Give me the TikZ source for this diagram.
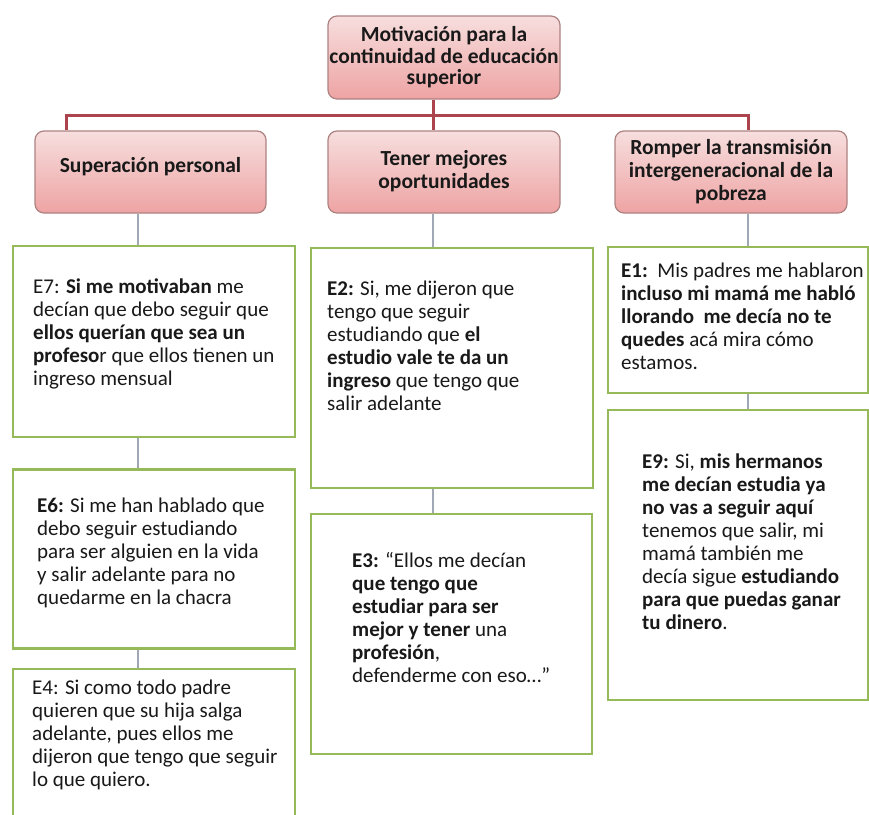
\documentclass[tikz,border=0pt]{standalone}
\usepackage{fontspec}
\setmainfont{Carlito}
\definecolor{headtop}{RGB}{247,222,222}
\definecolor{headbot}{RGB}{238,163,163}
\definecolor{headline}{RGB}{175,130,130}
\definecolor{barred}{RGB}{172,68,78}
\definecolor{linkgray}{RGB}{160,168,182}
\definecolor{quoteline}{RGB}{150,185,90}
\begin{document}
\begin{tikzpicture}[x=1pt,y=-1pt,
  head/.style={draw=headline, line width=1.2pt, rounded corners=9pt,
    top color=headtop, bottom color=headbot, align=center, inner sep=0pt,
    text=black!90, font=\bfseries\fontsize{21.5}{23}\selectfont},
  quote/.style={draw=quoteline, line width=2.6pt, fill=white, inner sep=0pt},
  txt/.style={anchor=north west, align=left, inner sep=0pt,
    text=black!90, font=\fontsize{21}{23}\selectfont},
  redlink/.style={draw=barred, line width=3pt},
  graylink/.style={draw=linkgray, line width=1.3pt}]
  \useasboundingbox (0,0) rectangle (869,814);
  \fill[white] (0,0) rectangle (869,814);
  \clip (0,0) rectangle (869,814);

  % Top box
  \node[head, minimum width=232, minimum height=83,
    font=\bfseries\fontsize{21.5}{21.5}\selectfont] (top) at (444,57.5)
    {Motivación para la\\continuidad de educación\\superior};

  % Three motives
  \node[head, minimum width=231, minimum height=82] (h1) at (150.5,172)
    {Superación personal\\[-9pt]};
  \node[head, minimum width=232, minimum height=82] (h2) at (444,172)
    {Tener mejores\\oportunidades\\[-17pt]};
  \node[head, minimum width=232, minimum height=82] (h3) at (731,172)
    {Romper la transmisión\\intergeneracional de la\\pobreza};

  % Quote boxes, left column
  \node[quote, minimum width=282, minimum height=191] (e7) at (154,341.5) {};
  \node[quote, minimum width=282, minimum height=179] (e6) at (154,559) {};
  \node[quote, minimum width=282, minimum height=170] (e4) at (154,754) {};
  % Quote boxes, middle column
  \node[quote, minimum width=282, minimum height=240] (e2) at (452,368) {};
  \node[quote, minimum width=281, minimum height=240] (e3) at (451.5,634) {};
  % Quote boxes, right column
  \node[quote, minimum width=260, minimum height=146] (e1) at (738,320) {};
  \node[quote, minimum width=260, minimum height=290] (e9) at (738,555) {};

  % Red fork
  \coordinate (fork) at (433,115);
  \draw[redlink] ([xshift=-11]top.south) -- ([xshift=-11]h2.north);
  \draw[redlink] ([xshift=-84.5]h1.north) |- (fork) -| ([xshift=17]h3.north);

  % Gray links
  \draw[graylink] ([xshift=-12.5]h1.south) -- ([xshift=-12.5]h1.south |- e7.north);
  \draw[graylink] ([xshift=-16]e7.south) -- ([xshift=-16]e6.north);
  \draw[graylink] ([xshift=-16]e6.south) -- ([xshift=-16]e4.north);
  \draw[graylink] ([xshift=-11]h2.south) -- ([xshift=-11]h2.south |- e2.north);
  \draw[graylink] ([xshift=-19]e2.south) -- ([xshift=-18.5]e3.north);
  \draw[graylink] ([xshift=17]h3.south) -- ([xshift=17]h3.south |- e1.north);
  \draw[graylink] ([xshift=10]e1.south) -- ([xshift=10]e9.north);

  % Quotes
  \node[txt] (t7) at (33,279) {E7: \textbf{Si me motivaban} me\\decían que debo seguir que\\
    \textbf{ellos querían que sea un}\\\textbf{profeso}r que ellos tienen un\\ingreso mensual};
  \node[txt] (t6) at (37,498) {\textbf{E6:} Si me han hablado que\\debo seguir estudiando\\
    para ser alguien en la vida\\y salir adelante para no\\quedarme en la chacra};
  \node[txt] (t4) at (32,680) {E4: Si como todo padre\\quieren que su hija salga\\
    adelante, pues ellos me\\dijeron que tengo que seguir\\lo que quiero.};
  \node[txt] (t2) at (327,281) {\textbf{E2:} Si, me dijeron que\\tengo que seguir\\
    estudiando que \textbf{el}\\\textbf{estudio vale te da un}\\\textbf{ingreso} que tengo que\\salir adelante};
  \node[txt] (t3) at (352,552) {\textbf{E3:} “Ellos me decían\\\textbf{que tengo que}\\
    \textbf{estudiar para ser}\\\textbf{mejor y tener} una\\\textbf{profesión},\\defenderme con eso…”};
  \node[txt] (t1) at (621,263) {\textbf{E1:}\ \ Mis padres me hablaron\\\textbf{incluso mi mamá me habló}\\
    \textbf{llorando\ \ me decía no te}\\\textbf{quedes} acá mira cómo\\estamos.};
  \node[txt] (t9) at (642,454) {\textbf{E9:} Si, \textbf{mis hermanos}\\\textbf{me decían estudia ya}\\
    \textbf{no vas a seguir aquí}\\tenemos que salir, mi\\mamá también me\\decía sigue \textbf{estudiando}\\
    \textbf{para que puedas ganar}\\\textbf{tu dinero}.};
\end{tikzpicture}
\end{document}
